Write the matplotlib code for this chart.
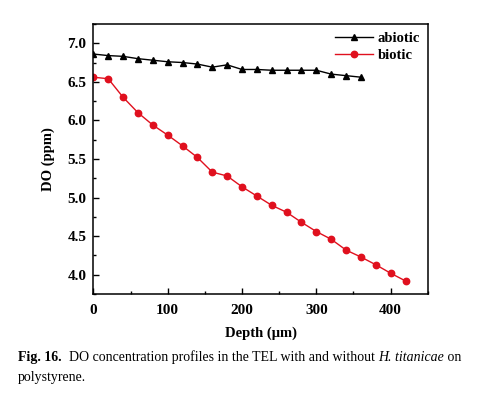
import numpy as np
import matplotlib
matplotlib.use("Agg")
from matplotlib import pyplot as plt
from matplotlib.ticker import MultipleLocator, FormatStrFormatter

plt.rcParams['font.family'] = ['Liberation Serif', 'DejaVu Serif']

# depth (um) and DO (ppm)
abiotic_depth = [0, 20, 40, 60, 80, 100, 120, 140, 160, 180, 200, 220, 240,
                 260, 280, 300, 320, 340, 360]
abiotic_do = [6.86, 6.84, 6.83, 6.80, 6.78, 6.76, 6.75, 6.73, 6.69, 6.72,
              6.66, 6.66, 6.65, 6.65, 6.65, 6.65, 6.60, 6.58, 6.56]

biotic_depth = [0, 20, 40, 60, 80, 100, 120, 140, 160, 180, 200, 220, 240,
                260, 280, 300, 320, 340, 360, 380, 400, 420]
biotic_do = [6.56, 6.54, 6.30, 6.10, 5.94, 5.81, 5.67, 5.52, 5.33, 5.28,
             5.14, 5.02, 4.90, 4.81, 4.68, 4.56, 4.46, 4.32, 4.23, 4.13,
             4.02, 3.92]

fig = plt.figure(figsize=(4.94, 3.99), dpi=100)
ax = fig.add_axes([0.189, 0.263, 0.677, 0.677])

ax.plot(abiotic_depth, abiotic_do, color='black', marker='^', markersize=4.8,
        linewidth=1.0, label='abiotic')
ax.plot(biotic_depth, biotic_do, color='#e0101e', marker='o', markersize=4.6,
        linewidth=1.0, label='biotic')

ax.set_xlim(0, 450)
ax.set_ylim(3.75, 7.25)
ax.xaxis.set_major_locator(MultipleLocator(100))
ax.xaxis.set_minor_locator(MultipleLocator(50))
ax.yaxis.set_major_locator(MultipleLocator(0.5))
ax.yaxis.set_minor_locator(MultipleLocator(0.25))
ax.yaxis.set_major_formatter(FormatStrFormatter('%.1f'))
ax.tick_params(which='both', direction='in', top=False, right=False)
ax.tick_params(which='major', length=4, width=1, labelsize=11)
ax.tick_params(axis='x', which='major', pad=7)
ax.tick_params(axis='y', which='major', pad=5)
ax.tick_params(which='minor', length=2.5, width=1)
for lab in ax.get_xticklabels() + ax.get_yticklabels():
    lab.set_fontweight('bold')
for sp in ax.spines.values():
    sp.set_linewidth(1.1)

ax.set_xlabel('Depth (μm)', fontsize=10.5, fontweight='bold', labelpad=7)
ax.set_ylabel('DO (ppm)', fontsize=10.5, fontweight='bold', labelpad=9)

leg = ax.legend(loc='upper right', frameon=False, fontsize=10.5,
                handlelength=2.6, borderaxespad=0.15, labelspacing=0.25,
                handletextpad=0.3)
for t in leg.get_texts():
    t.set_fontweight('bold')

# caption, drawn piece by piece so the italic name sits inline
fig.canvas.draw()
renderer = fig.canvas.get_renderer()
pieces = [('Fig. 16.', 'bold', 'normal'),
          ('  DO concentration profiles in the TEL with and without ', 'normal', 'normal'),
          ('H. titanicae', 'normal', 'italic'),
          (' on', 'normal', 'normal')]
x = 18 / 494
for txt, weight, style in pieces:
    t = fig.text(x, 1 - 361 / 399, txt, fontsize=10, fontweight=weight,
                 fontstyle=style, va='baseline', ha='left')
    bb = t.get_window_extent(renderer)
    x += bb.width / fig.bbox.width
fig.text(18 / 494, 1 - 381 / 399, 'polystyrene.', fontsize=10,
         va='baseline', ha='left')

fig.savefig('out.png', dpi=100)
